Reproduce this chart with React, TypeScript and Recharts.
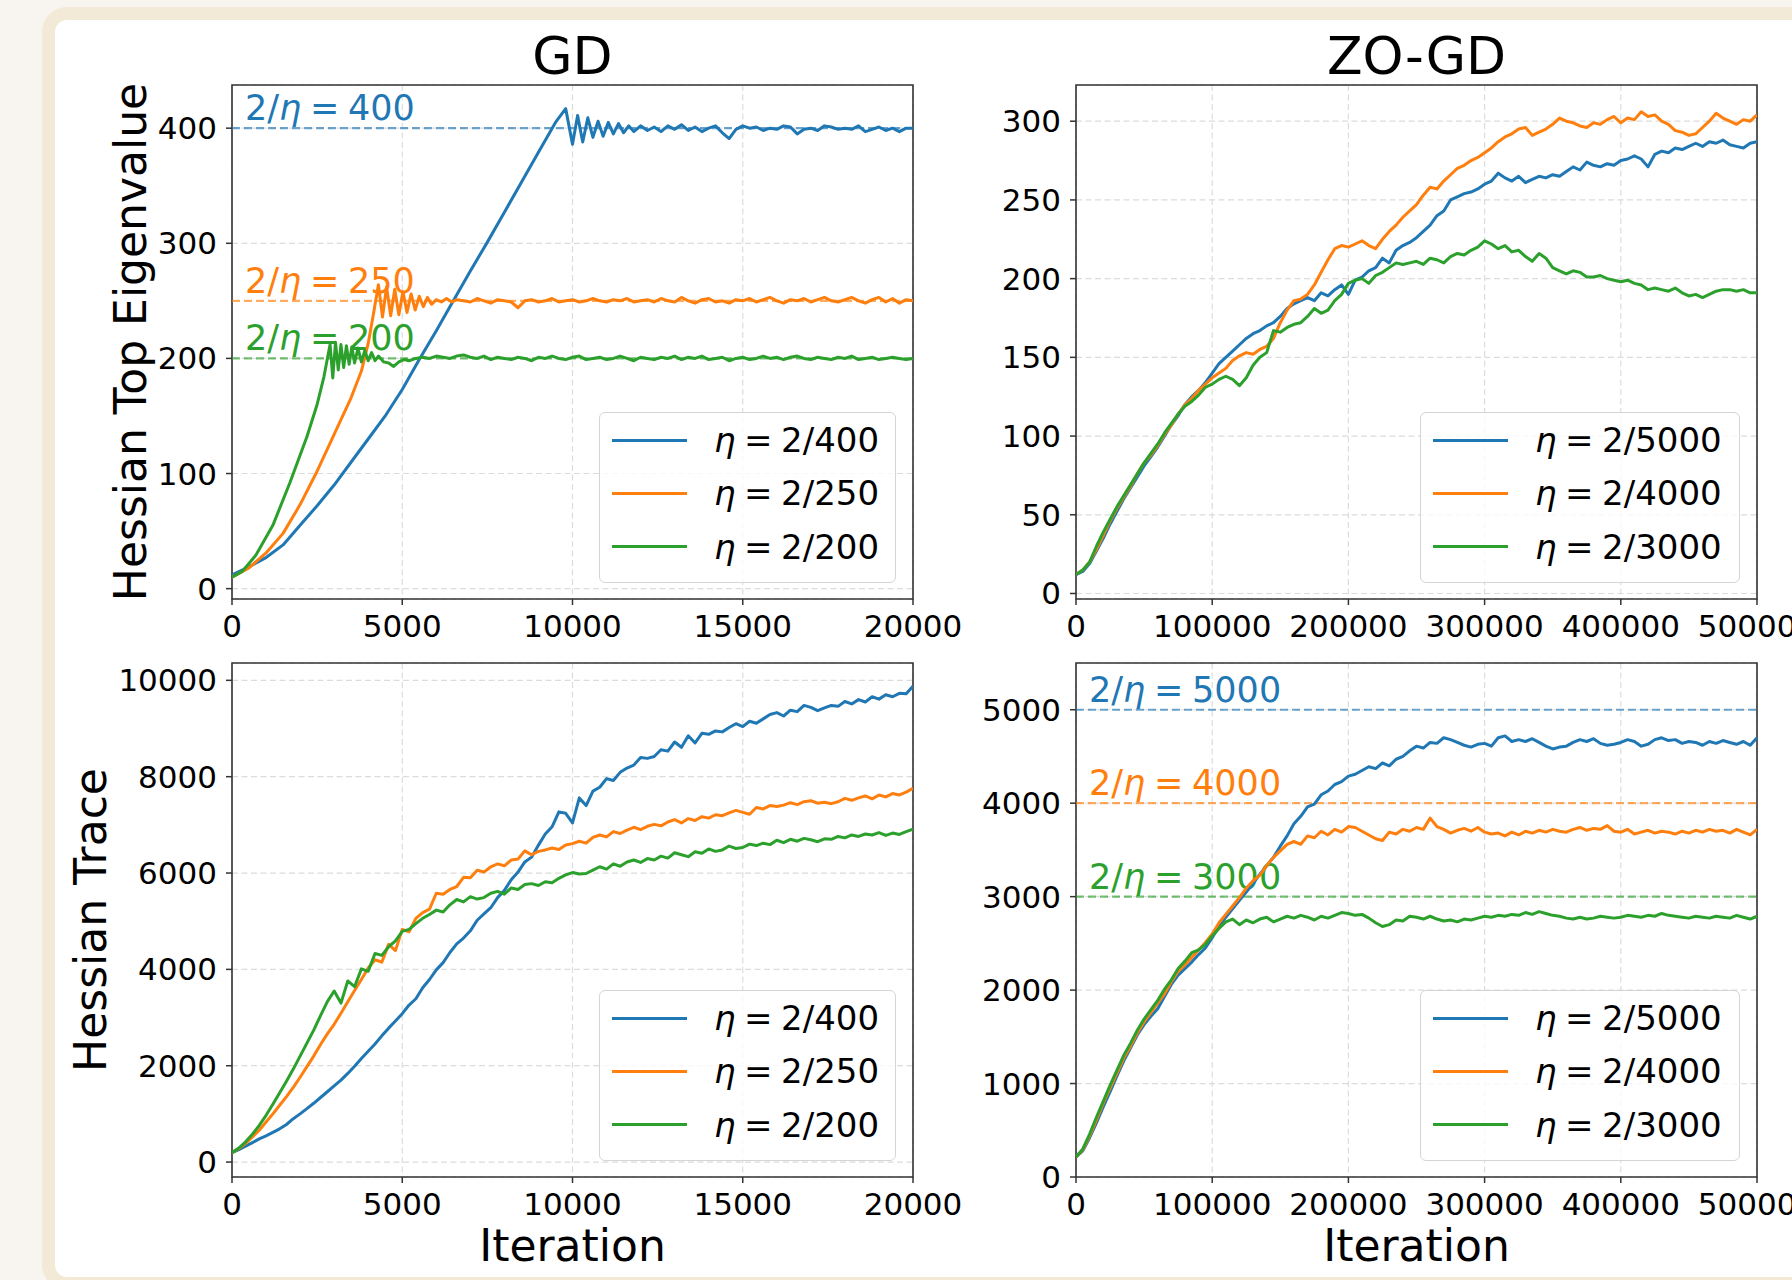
import React from 'react';
import { LineChart, Line, XAxis, YAxis, CartesianGrid, ReferenceLine, ReferenceArea, Legend } from 'recharts';

const FONT = '"DejaVu Sans", sans-serif';
const BLUE = '#1f77b4';
const ORANGE = '#ff7f0e';
const GREEN = '#2ca02c';

// sampling grids (iteration numbers)
const gdIters = Array.from({ length: 101 }, (_, i) => i * 200);
const zoIters = Array.from({ length: 101 }, (_, i) => i * 5000);

const gdTicks = [0, 5000, 10000, 15000, 20000];
const zoTicks = [0, 100000, 200000, 300000, 400000, 500000];
const gdEigTicks = [0, 100, 200, 300, 400];
const zoEigTicks = [0, 50, 100, 150, 200, 250, 300];
const gdTraceTicks = [0, 2000, 4000, 6000, 8000, 10000];
const zoTraceTicks = [0, 1000, 2000, 3000, 4000, 5000];

const gdLabels = ['2/400', '2/250', '2/200'];
const zoLabels = ['2/5000', '2/4000', '2/3000'];
const gdThresholds = [400, 250, 200];
const zoThresholds = [5000, 4000, 3000];

// GD, top eigenvalue: [iteration, value]
const gdEig400 = [
  [0, 12], [500, 19], [1000, 27], [1500, 38], [2000, 55], [2500, 72], [3000, 90], [3500, 110], [4000, 130], [4500, 150],
  [5000, 173], [5500, 199], [6000, 224], [6500, 250], [7000, 276], [7500, 301], [8000, 327], [8500, 353], [9000, 379], [9500, 405],
  [9800, 417], [10000, 386], [10150, 411], [10300, 388], [10450, 409], [10600, 392], [10750, 406], [10900, 393], [11050, 405], [11200, 395],
  [11350, 404], [11500, 396], [11650, 402], [11800, 397], [12000, 402], [12200, 398], [12400, 401], [12600, 397], [12800, 402], [13000, 399],
  [13200, 403], [13400, 398], [13600, 401], [13800, 397], [14000, 400], [14200, 402], [14400, 396], [14600, 391], [14800, 399], [15000, 402],
  [15200, 400], [15400, 401], [15600, 398], [15800, 400], [16000, 399], [16200, 402], [16400, 401], [16600, 395], [16800, 399], [17000, 400],
  [17200, 398], [17400, 402], [17600, 401], [17800, 399], [18000, 400], [18200, 399], [18400, 402], [18600, 397], [18800, 399], [19000, 401],
  [19200, 398], [19400, 400], [19600, 397], [19800, 400], [20000, 400],
];
const gdEig250 = [
  [0, 10], [500, 18], [1000, 31], [1500, 48], [2000, 73], [2500, 102], [3000, 134], [3500, 166], [3800, 189], [4000, 213],
  [4150, 238], [4300, 264], [4420, 236], [4540, 262], [4660, 237], [4780, 260], [4900, 238], [5020, 258], [5140, 240], [5260, 256],
  [5380, 242], [5500, 254], [5620, 245], [5740, 253], [5860, 247], [6000, 251], [6150, 249], [6300, 252], [6450, 249], [6600, 251],
  [6800, 250], [7000, 249], [7200, 252], [7400, 250], [7600, 248], [7800, 251], [8000, 250], [8200, 249], [8400, 244], [8600, 250],
  [8800, 251], [9000, 249], [9200, 250], [9400, 252], [9600, 249], [9800, 250], [10000, 251], [10200, 249], [10400, 250], [10600, 252],
  [10800, 250], [11000, 249], [11200, 251], [11400, 250], [11600, 252], [11800, 249], [12000, 250], [12200, 251], [12400, 249], [12600, 252],
  [12800, 250], [13000, 249], [13200, 253], [13400, 250], [13600, 248], [13800, 251], [14000, 252], [14200, 249], [14400, 250], [14600, 248],
  [14800, 251], [15000, 250], [15200, 252], [15400, 249], [15600, 251], [15800, 253], [16000, 250], [16200, 248], [16400, 251], [16600, 250],
  [16800, 252], [17000, 249], [17200, 251], [17400, 253], [17600, 250], [17800, 249], [18000, 251], [18200, 253], [18400, 250], [18600, 248],
  [18800, 251], [19000, 253], [19200, 249], [19400, 252], [19600, 248], [19800, 251], [20000, 250],
];
const gdEig200 = [
  [0, 10], [300, 15], [700, 29], [1200, 55], [1700, 92], [2200, 132], [2500, 160], [2700, 184], [2880, 212], [2960, 183],
  [3040, 214], [3120, 190], [3200, 212], [3280, 192], [3360, 211], [3440, 195], [3520, 210], [3600, 196], [3700, 209], [3800, 197],
  [3900, 207], [4000, 198], [4100, 205], [4200, 198], [4300, 202], [4450, 197], [4600, 196], [4750, 193], [4900, 197], [5050, 199],
  [5200, 198], [5400, 200], [5600, 201], [5800, 200], [6000, 202], [6200, 201], [6400, 200], [6600, 202], [6800, 203], [7000, 201],
  [7200, 200], [7400, 202], [7600, 199], [7800, 201], [8000, 200], [8200, 199], [8400, 201], [8600, 200], [8800, 198], [9000, 201],
  [9200, 200], [9400, 202], [9600, 200], [9800, 199], [10000, 201], [10200, 202], [10400, 199], [10600, 200], [10800, 201], [11000, 199],
  [11200, 200], [11400, 202], [11600, 200], [11800, 198], [12000, 201], [12200, 200], [12400, 199], [12600, 201], [12800, 200], [13000, 202],
  [13200, 199], [13400, 201], [13600, 200], [13800, 202], [14000, 199], [14200, 200], [14400, 201], [14600, 198], [14800, 200], [15000, 201],
  [15200, 199], [15400, 200], [15600, 202], [15800, 200], [16000, 201], [16200, 199], [16400, 201], [16600, 202], [16800, 200], [17000, 199],
  [17200, 201], [17400, 200], [17600, 199], [17800, 201], [18000, 200], [18200, 202], [18400, 199], [18600, 200], [18800, 201], [19000, 199],
  [19200, 200], [19400, 201], [19600, 200], [19800, 199], [20000, 200],
];

// ZO-GD, top eigenvalue, every 5000 iterations
const zoEig5000 = [
  12, 14, 19, 27, 35, 44, 52, 60, 67, 74,
  81, 87, 93, 100, 107, 113, 120, 125, 129, 134,
  140, 146, 150, 154, 158, 162, 165, 167, 170, 172,
  176, 181, 184, 186, 188, 186, 191, 189, 193, 196,
  190, 199, 201, 205, 207, 213, 210, 218, 221, 223,
  226, 230, 234, 240, 243, 250, 252, 254, 255, 257,
  260, 262, 267, 264, 262, 265, 261, 263, 265, 264,
  266, 265, 268, 271, 269, 274, 272, 271, 273, 272,
  275, 276, 278, 276, 271, 279, 281, 280, 283, 282,
  284, 286, 284, 287, 286, 288, 285, 284, 283, 286,
  287,
];
const zoEig4000 = [
  12, 15, 20, 28, 37, 46, 54, 61, 68, 76,
  83, 88, 94, 101, 107, 114, 120, 124, 129, 133,
  137, 140, 143, 148, 151, 153, 152, 155, 157, 162,
  172, 180, 186, 187, 190, 196, 204, 212, 219, 221,
  220, 222, 224, 221, 219, 225, 230, 234, 239, 243,
  247, 253, 258, 257, 262, 266, 270, 272, 275, 277,
  280, 283, 287, 290, 292, 295, 296, 291, 293, 295,
  298, 302, 300, 299, 297, 296, 299, 298, 301, 303,
  299, 302, 301, 306, 303, 304, 300, 298, 294, 293,
  291, 292, 296, 300, 305, 302, 300, 298, 301, 300,
  304,
];
const zoEig3000 = [
  12, 15, 20, 30, 39, 47, 55, 62, 69, 76,
  83, 89, 95, 102, 108, 114, 119, 122, 126, 131,
  133, 136, 138, 136, 132, 137, 145, 150, 153, 167,
  166, 169, 171, 172, 176, 181, 178, 180, 186, 190,
  197, 199, 200, 197, 202, 204, 207, 210, 209, 210,
  211, 209, 213, 212, 210, 214, 216, 215, 218, 220,
  224, 222, 219, 221, 217, 218, 214, 211, 216, 213,
  207, 205, 203, 205, 204, 201, 201, 202, 200, 199,
  198, 199, 197, 196, 193, 194, 193, 192, 194, 191,
  189, 190, 188, 190, 192, 193, 193, 192, 193, 191,
  191,
];

// GD, Hessian trace, every 200 iterations
const gdTrace400 = [
  195, 260, 330, 405, 480, 545, 615, 690, 780, 900,
  1000, 1110, 1220, 1340, 1460, 1580, 1700, 1840, 1990, 2150,
  2300, 2450, 2620, 2780, 2930, 3080, 3260, 3390, 3620, 3790,
  3990, 4140, 4350, 4530, 4650, 4800, 5020, 5150, 5280, 5490,
  5640, 5860, 6020, 6230, 6330, 6580, 6810, 6960, 7270, 7240,
  7040, 7560, 7400, 7700, 7780, 7960, 7920, 8090, 8180, 8240,
  8400, 8380, 8420, 8560, 8530, 8720, 8610, 8850, 8700, 8900,
  8880, 8950, 8930, 9020, 9100, 9040, 9150, 9110, 9200, 9290,
  9330, 9260, 9380, 9350, 9480, 9440, 9370, 9430, 9480, 9460,
  9560, 9510, 9600, 9550, 9660, 9610, 9700, 9660, 9730, 9720,
  9880,
];
const gdTrace250 = [
  195, 280, 390, 520, 660, 830, 1000, 1180, 1360, 1550,
  1760, 1980, 2200, 2440, 2660, 2860, 3090, 3330, 3560, 3790,
  4030, 4200, 4150, 4520, 4390, 4830, 4780, 5060, 5180, 5250,
  5580, 5560, 5660, 5720, 5910, 5900, 6060, 6020, 6130, 6190,
  6150, 6270, 6290, 6460, 6380, 6450, 6480, 6520, 6490, 6580,
  6610, 6660, 6620, 6740, 6790, 6750, 6860, 6820, 6890, 6950,
  6900, 6970, 7010, 6980, 7060, 7110, 7040, 7130, 7090, 7170,
  7140, 7210, 7190, 7250, 7300, 7260, 7220, 7360, 7330, 7400,
  7380, 7410, 7460, 7420, 7480, 7500, 7450, 7470, 7440, 7480,
  7550, 7510, 7560, 7600, 7540, 7620, 7580, 7650, 7620, 7680,
  7760,
];
const gdTrace200 = [
  195, 290, 420, 580, 760, 970, 1200, 1440, 1680, 1930,
  2200, 2470, 2740, 3040, 3330, 3550, 3300, 3760, 3640, 4010,
  3960, 4330, 4290, 4470, 4590, 4790, 4830, 4950, 5060, 5140,
  5230, 5190, 5340, 5450, 5400, 5510, 5460, 5490, 5580, 5620,
  5560, 5690, 5660, 5760, 5780, 5740, 5820, 5800, 5890, 5960,
  6010, 5980, 5990, 6060, 6130, 6080, 6190, 6140, 6230, 6270,
  6220, 6300, 6270, 6350, 6310, 6420, 6380, 6340, 6440, 6410,
  6500, 6450, 6480, 6560, 6510, 6530, 6600, 6570, 6620, 6590,
  6680, 6630, 6700, 6660, 6720, 6690, 6650, 6710, 6700, 6760,
  6730, 6790, 6760, 6810, 6790, 6840, 6780, 6830, 6800, 6860,
  6910,
];

// ZO-GD, Hessian trace, every 5000 iterations
const zoTrace5000 = [
  215, 280, 420, 580, 750, 910, 1080, 1240, 1380, 1520,
  1630, 1720, 1800, 1930, 2060, 2160, 2230, 2300, 2380, 2450,
  2560, 2680, 2780, 2870, 2960, 3050, 3140, 3240, 3330, 3420,
  3540, 3650, 3780, 3860, 3960, 3990, 4090, 4130, 4200, 4230,
  4290, 4310, 4350, 4390, 4370, 4430, 4400, 4470, 4500, 4560,
  4610, 4590, 4650, 4640, 4700, 4680, 4650, 4620, 4600, 4630,
  4640, 4610, 4700, 4720, 4660, 4680, 4660, 4690, 4650, 4610,
  4580, 4600, 4610, 4650, 4680, 4660, 4690, 4640, 4620, 4630,
  4650, 4680, 4660, 4610, 4630, 4680, 4700, 4670, 4680, 4640,
  4660, 4650, 4620, 4660, 4640, 4670, 4650, 4630, 4660, 4620,
  4700,
];
const zoTrace4000 = [
  215, 290, 440, 610, 790, 950, 1110, 1270, 1400, 1540,
  1660, 1760, 1860, 1960, 2090, 2200, 2270, 2350, 2430, 2510,
  2600, 2720, 2810, 2900, 2990, 3090, 3170, 3230, 3330, 3420,
  3490, 3560, 3590, 3560, 3650, 3630, 3700, 3660, 3720, 3690,
  3750, 3740, 3700, 3660, 3620, 3600, 3690, 3670, 3720, 3700,
  3740, 3720, 3840, 3750, 3720, 3680, 3710, 3730, 3700, 3740,
  3690, 3670, 3680, 3650, 3690, 3660, 3700, 3680, 3710, 3690,
  3720, 3700, 3690, 3720, 3740, 3710, 3730, 3720, 3760, 3700,
  3690, 3720, 3670, 3690, 3710, 3680, 3700, 3690, 3670, 3700,
  3680, 3710, 3690, 3720, 3700, 3710, 3680, 3720, 3690, 3660,
  3720,
];
const zoTrace3000 = [
  215, 300, 460, 640, 810, 980, 1140, 1300, 1430, 1570,
  1690, 1790, 1890, 2010, 2110, 2230, 2310, 2400, 2430, 2490,
  2580, 2660, 2730, 2760, 2700, 2750, 2720, 2760, 2780, 2730,
  2760, 2790, 2770, 2800, 2780, 2750, 2790, 2770, 2800, 2830,
  2820, 2800, 2810, 2770, 2720, 2680, 2700, 2750, 2740, 2790,
  2780, 2760, 2790, 2760, 2740, 2750, 2730, 2760, 2750, 2770,
  2790, 2780, 2800, 2790, 2810, 2800, 2830, 2810, 2840, 2820,
  2800, 2790, 2770, 2760, 2780, 2760, 2770, 2790, 2780, 2770,
  2780, 2800, 2790, 2780, 2800, 2790, 2820, 2800, 2790, 2780,
  2770, 2790, 2780, 2770, 2790, 2780, 2770, 2800, 2780, 2760,
  2790,
];

type Pt = { x: number; y: number };
type Series = { name: string; color: string; data: Pt[] };

const fromPairs = (p: number[][]): Pt[] => p.map(([x, y]) => ({ x, y }));
const onGrid = (xs: number[], ys: number[]): Pt[] => ys.map((y, i) => ({ x: xs[i], y }));

const COLORS = [BLUE, ORANGE, GREEN];

// plot geometry
const PW = 681;
const PH = 514;
const YW = 150;
const TM = 10;
const RM = 70;
const XH = 60;
const LEG_H = 171;

const RefLabel = (props: any) => {
  const { viewBox, num, clr } = props;
  if (!viewBox) return null;
  return (
    <text x={viewBox.x + 13} y={viewBox.y - 8} fill={clr} fontSize={35} fontFamily={FONT}>
      2/<tspan fontStyle="italic">η</tspan>
      {'\u2005=\u2005' + num}
    </text>
  );
};

const LegendBox = ({ series, width }: { series: Series[]; width: number }) => (
  <div
    style={{
      position: 'relative',
      width,
      height: LEG_H,
      boxSizing: 'border-box',
      background: 'rgba(255,255,255,0.8)',
      border: '1.5px solid #d5d5d5',
      borderRadius: 6,
      fontFamily: FONT,
    }}
  >
    {series.map((s, i) => (
      <div
        key={s.name}
        style={{ position: 'absolute', left: 0, top: 27 + i * 53.4 - 20, height: 40, display: 'flex', alignItems: 'center' }}
      >
        <div style={{ marginLeft: 12, width: 75, height: 3, background: s.color }} />
        <span style={{ marginLeft: 27, fontSize: 34, lineHeight: '40px', color: '#000', whiteSpace: 'nowrap' }}>
          <span style={{ fontStyle: 'italic' }}>η</span>
          {'\u2005=\u2005' + s.name}
        </span>
      </div>
    ))}
  </div>
);

type PanelProps = {
  left: number;
  top: number;
  xDomain: [number, number];
  xTicks: number[];
  yDomain: [number, number];
  yTicks: number[];
  series: Series[];
  refs?: number[];
  legendWidth: number;
};

const tickStyle = { fontSize: 31, fill: '#000', fontFamily: FONT };

const Panel = ({ left, top, xDomain, xTicks, yDomain, yTicks, series, refs = [], legendWidth }: PanelProps) => (
  <div style={{ position: 'absolute', left: left - YW, top: top - TM }}>
    <LineChart width={YW + PW + RM} height={TM + PH + XH} margin={{ top: TM, right: RM, left: 0, bottom: 0 }}>
      <CartesianGrid stroke="#dcdcdc" strokeDasharray="6 3.5" strokeWidth={1.2} />
      <XAxis
        type="number"
        dataKey="x"
        domain={xDomain}
        ticks={xTicks}
        interval={0}
        allowDataOverflow
        height={XH}
        axisLine={false}
        tickSize={6}
        tickMargin={10}
        tickLine={{ stroke: '#333', strokeWidth: 1.5 }}
        tick={tickStyle}
      />
      <YAxis
        type="number"
        dataKey="y"
        domain={yDomain}
        ticks={yTicks}
        interval={0}
        allowDataOverflow
        width={YW}
        axisLine={false}
        tickSize={6}
        tickMargin={9}
        tickLine={{ stroke: '#333', strokeWidth: 1.5 }}
        tick={tickStyle}
      />
      {refs.map((v, i) => (
        <ReferenceLine
          key={v}
          y={v}
          stroke={COLORS[i]}
          strokeOpacity={0.65}
          strokeWidth={2.2}
          strokeDasharray="8 4"
          label={<RefLabel num={v} clr={COLORS[i]} />}
        />
      ))}
      {series.map((s) => (
        <Line
          key={s.name}
          data={s.data}
          dataKey="y"
          name={s.name}
          type="linear"
          stroke={s.color}
          strokeWidth={3}
          strokeLinejoin="round"
          dot={false}
          activeDot={false}
          isAnimationActive={false}
        />
      ))}
      <ReferenceArea
        x1={xDomain[0]}
        x2={xDomain[1]}
        y1={yDomain[0]}
        y2={yDomain[1]}
        fill="none"
        stroke="#333"
        strokeWidth={1.6}
        ifOverflow="visible"
      />
      <Legend
        layout="vertical"
        align="center"
        verticalAlign="middle"
        wrapperStyle={{ left: YW + PW - 17 - legendWidth, top: TM + PH - 16 - LEG_H, width: legendWidth, height: LEG_H }}
        content={() => <LegendBox series={series} width={legendWidth} />}
      />
    </LineChart>
  </div>
);

const makeSeries = (names: string[], data: Pt[][]): Series[] =>
  names.map((name, i) => ({ name, color: COLORS[i], data: data[i] }));

export default function App() {
  const gdEig = makeSeries(gdLabels, [fromPairs(gdEig400), fromPairs(gdEig250), fromPairs(gdEig200)]);
  const zoEig = makeSeries(zoLabels, [onGrid(zoIters, zoEig5000), onGrid(zoIters, zoEig4000), onGrid(zoIters, zoEig3000)]);
  const gdTrace = makeSeries(gdLabels, [onGrid(gdIters, gdTrace400), onGrid(gdIters, gdTrace250), onGrid(gdIters, gdTrace200)]);
  const zoTrace = makeSeries(zoLabels, [
    onGrid(zoIters, zoTrace5000),
    onGrid(zoIters, zoTrace4000),
    onGrid(zoIters, zoTrace3000),
  ]);

  return (
    <div
      style={{
        position: 'absolute',
        left: 0,
        top: 0,
        width: 1792,
        height: 1280,
        overflow: 'hidden',
        background: '#f8f5f0',
        fontFamily: FONT,
      }}
    >
      <div
        style={{
          position: 'absolute',
          left: 42,
          top: 7,
          width: 1800,
          height: 1283,
          boxSizing: 'border-box',
          border: '13px solid #f2e9d6',
          borderRadius: 25,
          background: '#fff',
        }}
      />
      <Panel left={232} top={85} xDomain={[0, 20000]} xTicks={gdTicks} yDomain={[-9, 437.5]} yTicks={gdEigTicks}
        series={gdEig} refs={gdThresholds} legendWidth={297} />
      <Panel left={1076} top={85} xDomain={[0, 500000]} xTicks={zoTicks} yDomain={[-3.5, 323]} yTicks={zoEigTicks}
        series={zoEig} legendWidth={320} />
      <Panel left={232} top={663} xDomain={[0, 20000]} xTicks={gdTicks} yDomain={[-310, 10360]} yTicks={gdTraceTicks}
        series={gdTrace} legendWidth={297} />
      <Panel left={1076} top={663} xDomain={[0, 500000]} xTicks={zoTicks} yDomain={[0, 5500]} yTicks={zoTraceTicks}
        series={zoTrace} refs={zoThresholds} legendWidth={320} />
      <svg width={1792} height={1280} style={{ position: 'absolute', left: 0, top: 0, pointerEvents: 'none' }}>
        <g fontFamily={FONT} fill="#000">
          <text x={572.5} y={74} fontSize={52} textAnchor="middle">GD</text>
          <text x={1416.5} y={74} fontSize={52} textAnchor="middle">ZO-GD</text>
          <text x={146} y={342} fontSize={44} textAnchor="middle" transform="rotate(-90 146 342)">
            Hessian Top Eigenvalue
          </text>
          <text x={106} y={920} fontSize={44} textAnchor="middle" transform="rotate(-90 106 920)">
            Hessian Trace
          </text>
          <text x={572.5} y={1261} fontSize={44} textAnchor="middle">Iteration</text>
          <text x={1416.5} y={1261} fontSize={44} textAnchor="middle">Iteration</text>
        </g>
      </svg>
    </div>
  );
}
